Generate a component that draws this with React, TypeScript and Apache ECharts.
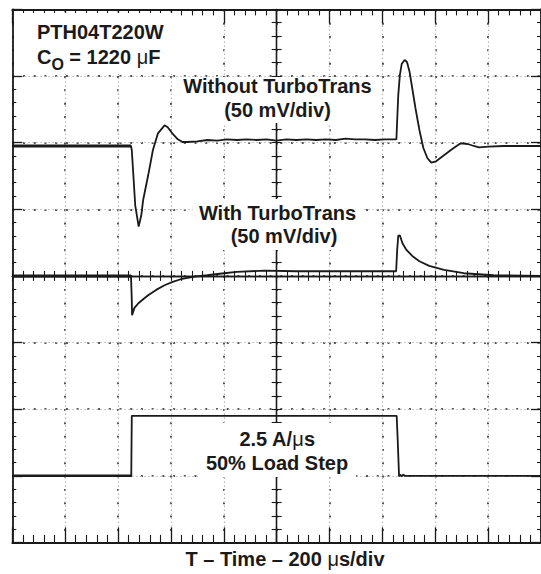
import React, { useEffect, useRef } from "react";
import * as echarts from "echarts";

// time in µs relative to screen centre (200 µs/div); level in screen divisions from centre
const withoutTurboTrans: [number, number][] = [
  [-1000, 1.95], [-551, 1.95], [-548, 1.89], [-542, 1.51], [-535, 1.06], [-522, 0.74],
  [-512, 0.91], [-505, 1.14], [-486, 1.51], [-468, 1.89], [-449, 2.14], [-424, 2.26],
  [-412, 2.23], [-393, 2.13], [-374, 2.05], [-356, 2.01], [-337, 2.01], [-300, 2.02],
  [-262, 2.04], [-225, 2.03], [-188, 2.05], [-150, 2.04], [-113, 2.05], [-76, 2.04],
  [-38, 2.05], [-1, 2.03], [37, 2.05], [74, 2.04], [112, 2.05], [149, 2.04], [186, 2.05],
  [224, 2.04], [261, 2.06], [297, 2.05], [335, 2.05], [372, 2.04], [410, 2.05], [453, 2.05],
  [456, 2.34], [460, 2.71], [466, 3.01], [473, 3.18], [484, 3.24], [493, 3.21], [503, 3.06],
  [514, 2.79], [525, 2.52], [540, 2.19], [555, 1.92], [570, 1.77], [585, 1.7], [603, 1.72],
  [633, 1.81], [663, 1.9], [696, 1.99], [723, 1.98], [746, 1.95], [765, 1.93], [802, 1.94],
  [858, 1.95], [915, 1.95], [973, 1.95], [1000, 1.95],
];

const withTurboTrans: [number, number][] = [
  [-1000, 0], [-551, 0], [-548, -0.36], [-547, -0.59], [-538, -0.48], [-523, -0.41],
  [-505, -0.35], [-486, -0.29], [-456, -0.21], [-424, -0.14], [-393, -0.09], [-363, -0.05],
  [-311, -0.01], [-263, 0.01], [-199, 0.04], [-151, 0.06], [-46, 0.08], [74, 0.07],
  [260, 0.07], [452, 0.07], [456, 0.39], [460, 0.6], [466, 0.61], [476, 0.49], [491, 0.39],
  [513, 0.3], [540, 0.22], [577, 0.15], [633, 0.09], [708, 0.04], [820, 0.01], [1000, 0],
];

const loadStep: [number, number][] = [
  [-1000, -3.0], [-550, -3.0], [-548, -2.1], [454, -2.1], [458, -2.47], [463, -3.0],
  [467, -2.98], [473, -3.01], [479, -2.98], [484, -3.0], [1000, -3.0],
];

const FONT = '"Liberation Sans", Arial, Helvetica, sans-serif';
const INK = "#1a1a1a";
const FS = 20;

const GRID = { left: 12.3, top: 9.4, width: 536, height: 533 };

function frameX(position: "top" | "bottom", major: number, minor: number, split: any) {
  return {
    gridIndex: 0, type: "value", min: -1000, max: 1000, interval: 200, position,
    axisLine: { show: true, onZero: false, lineStyle: { color: INK, width: 1.8 } },
    axisTick: { show: true, inside: true, length: major, lineStyle: { color: INK, width: 1.3 } },
    minorTick: { show: true, splitNumber: 5, length: minor, lineStyle: { color: INK, width: 1.1 } },
    axisLabel: { show: false },
    splitLine: split,
  };
}
function frameY(position: "left" | "right", major: number, minor: number, split: any) {
  return {
    gridIndex: 0, type: "value", min: -4, max: 4, interval: 1, position,
    axisLine: { show: true, onZero: false, lineStyle: { color: INK, width: 1.8 } },
    axisTick: { show: true, inside: true, length: major, lineStyle: { color: INK, width: 1.3 } },
    minorTick: { show: true, splitNumber: 5, length: minor, lineStyle: { color: INK, width: 1.1 } },
    axisLabel: { show: false },
    splitLine: split,
  };
}
// centre cross-hair: one x and one y axis per extra grid, both on zero
function centreX(gridIndex: number, position: "top" | "bottom") {
  return {
    gridIndex, type: "value", min: -1000, max: 1000, interval: 200, position,
    axisLine: { show: true, onZero: true, lineStyle: { color: INK, width: 1.3 } },
    axisTick: { show: true, inside: true, length: 5, lineStyle: { color: INK, width: 1.1 } },
    minorTick: { show: true, splitNumber: 5, length: 5, lineStyle: { color: INK, width: 1.1 } },
    axisLabel: { show: false },
    splitLine: { show: false },
  };
}
function centreY(gridIndex: number, position: "left" | "right") {
  return {
    gridIndex, type: "value", min: -4, max: 4, interval: 1, position,
    axisLine: { show: true, onZero: true, lineStyle: { color: INK, width: 1.3 } },
    axisTick: { show: true, inside: true, length: 5, lineStyle: { color: INK, width: 1.1 } },
    minorTick: { show: true, splitNumber: 5, length: 5, lineStyle: { color: INK, width: 1.1 } },
    axisLabel: { show: false },
    splitLine: { show: false },
  };
}

const boldText = (x: number, y: number, text: string, align: string, size = FS) => ({
  type: "text", x, y, z: 101,
  style: {
    text, fontSize: size, fontWeight: "bold", fontFamily: FONT, fill: INK,
    align, verticalAlign: "middle",
  },
});
const muText = (x: number, y: number, before: string, after: string, align: string, size = FS) => ({
  type: "text", x, y, z: 101,
  style: {
    text: `{b|${before}}{m|μ}{b|${after}}`,
    fontSize: size, fontWeight: "bold", fontFamily: FONT, fill: INK,
    align, verticalAlign: "middle",
    rich: {
      b: { fontSize: size, fontWeight: "bold", fontFamily: FONT, fill: INK },
      m: { fontSize: size, fontWeight: "normal", fontFamily: FONT, fill: INK },
    },
  },
});
const box = (x: number, y: number, w: number, h: number) => ({
  type: "rect", z: 100, shape: { x, y, width: w, height: h },
  style: { fill: "#ffffff", stroke: null },
});

export default function App() {
  const ref = useRef<HTMLDivElement>(null);
  useEffect(() => {
    if (!ref.current) return;
    const chart = echarts.init(ref.current, undefined, { renderer: "svg" });
    const darkDotsV = { show: true, lineStyle: { color: "#555555", width: 2, type: [2, 11.32] } };
    const darkDotsH = { show: true, lineStyle: { color: "#555555", width: 2, type: [2, 8.72] } };
    const faint = { show: true, lineStyle: { color: "#b8b8b8", width: 1.2, type: [1.5, 2.5] } };
    const lineSeries = (name: string, data: [number, number][], width = 1.8) => ({
      name, type: "line", data, showSymbol: false, symbol: "none", silent: true, z: 5,
      xAxisIndex: 0, yAxisIndex: 0,
      lineStyle: { color: INK, width },
    });
    chart.setOption({
      animation: false,
      backgroundColor: "#ffffff",
      grid: [
        { ...GRID, containLabel: false },
        { ...GRID, containLabel: false },
        { ...GRID, containLabel: false },
      ],
      xAxis: [
        frameX("bottom", 15, 7.5, darkDotsV),
        frameX("top", 14, 6, faint),
        centreX(1, "bottom"),
        centreX(2, "top"),
      ],
      yAxis: [
        frameY("left", 10, 4, darkDotsH),
        frameY("right", 10, 4, faint),
        centreY(1, "left"),
        centreY(2, "right"),
      ],
      series: [
        lineSeries("Without TurboTrans", withoutTurboTrans),
        lineSeries("With TurboTrans", withTurboTrans),
        lineSeries("Load Step", loadStep),
        // heavier pre-trigger traces, as on the scope screen
        lineSeries("Without TurboTrans (pre-trigger)", withoutTurboTrans.slice(0, 2), 3),
        lineSeries("With TurboTrans (pre-trigger)", withTurboTrans.slice(0, 2), 3),
        lineSeries("Load Step (pre-trigger)", loadStep.slice(0, 2), 2.4),
      ],
      graphic: [
        box(14, 13, 160, 61),
        box(175, 77, 206, 46),
        box(193, 199, 170, 51),
        box(200, 423, 156, 54),
        boldText(37, 32.3, "PTH04T220W", "left"),
        {
          type: "group", x: 37, y: 0, z: 101,
          children: [
            { type: "text", x: 0, y: 57.3, z: 101, style: { text: "C", fontSize: FS, fontWeight: "bold", fontFamily: FONT, fill: INK, align: "left", verticalAlign: "middle" } },
            { type: "text", x: 14.4, y: 64.4, z: 101, style: { text: "O", fontSize: 16, fontWeight: "bold", fontFamily: FONT, fill: INK, align: "left", verticalAlign: "middle" } },
            {
              type: "text", x: 26.8, y: 57.3, z: 101,
              style: {
                text: "{b| = 1220 }{m|μ}{b|F}", fontSize: FS, fontWeight: "bold", fontFamily: FONT, fill: INK,
                align: "left", verticalAlign: "middle",
                rich: {
                  b: { fontSize: FS, fontWeight: "bold", fontFamily: FONT, fill: INK },
                  m: { fontSize: FS, fontWeight: "normal", fontFamily: FONT, fill: INK },
                },
              },
            },
          ],
        },
        boldText(277.5, 86.3, "Without TurboTrans", "center"),
        boldText(277.5, 110, "(50 mV/div)", "center"),
        boldText(277.5, 213, "With TurboTrans", "center"),
        boldText(284, 235.7, "(50 mV/div)", "center"),
        muText(277, 439, "2.5 A/", "s", "center"),
        boldText(277, 463, "50% Load Step", "center"),
        muText(285, 559, "T – Time – 200 ", "s/div", "center"),
      ],
    });
    return () => chart.dispose();
  }, []);
  return <div ref={ref} style={{ position: "absolute", left: 0, top: 0, width: 541, height: 574 }} />;
}
